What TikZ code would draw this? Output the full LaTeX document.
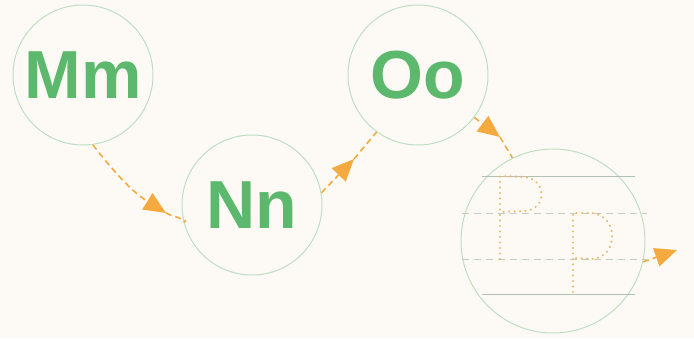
\documentclass[tikz,border=0pt]{standalone}
\usepackage{fontspec}
\setsansfont{Liberation Sans}
\usepackage{tikz}
\usetikzlibrary{arrows.meta,calc}
\definecolor{paper}{RGB}{253,250,245}
\definecolor{ringgreen}{RGB}{190,222,196}
\definecolor{lettergreen}{RGB}{92,184,108}
\definecolor{floworange}{RGB}{244,170,62}
\definecolor{tracedots}{RGB}{238,184,110}
\definecolor{guidegray}{RGB}{176,192,180}
\tikzset{
  letterring/.style={circle, draw=ringgreen, line width=1pt, minimum size=140pt,
    inner sep=0pt, fill=none, text=lettergreen,
    font=\fontsize{68}{68}\selectfont\sffamily\bfseries},
  flowline/.style={draw=floworange, line width=1.6pt, dash pattern=on 6pt off 4pt},
  flowtip/.style={-{Triangle[length=22pt, width=19pt, fill=floworange]}},
  guideline/.style={draw=guidegray, line width=0.9pt},
  guidedash/.style={draw=guidegray!80, line width=0.8pt, dash pattern=on 7pt off 5pt},
  traceline/.style={draw=tracedots, line width=2.4pt, line cap=round,
    dash pattern=on 0pt off 5.5pt},
}

\begin{document}
\begin{tikzpicture}[x=1pt, y=-1pt]
  \useasboundingbox (0,0) rectangle (694,338);
  \fill[paper] (0,0) rectangle (694,338);
  % letter circles
  \node[letterring] (mm) at (83,75) {Mm};
  \node[letterring] (nn) at (252,205) {Nn};
  \node[letterring] (oo) at (418,75) {Oo};
  \node[letterring, minimum size=184pt] (pp) at (553,241) {};
  % writing lines in the last circle
  \draw[guideline] (482,176) -- (635,176);
  \draw[guidedash] (462,213) -- (647,213);
  \draw[guidedash] (462,259) -- (647,259);
  \draw[guideline] (482,294) -- (635,294);
  % dotted P and p
  \draw[traceline] (500,259) -- (500,176) -- (525,177)
    .. controls (547,180) and (547,209) .. (525,211) -- (500,212);
  \draw[traceline] (573,292) -- (573,213) -- (592,213)
    .. controls (619,216) and (619,257) .. (592,259) -- (573,258);
  % connectors
  \coordinate (tipmn) at (166,213);
  \coordinate (tipno) at (354,159);
  \coordinate (tipop) at (500,137);
  \coordinate (tipout) at (677,250);
  \draw[flowline, flowtip] (mm.-82) to[out=-52, in=148] (tipmn);
  \draw[flowline] (tipmn) to[out=-30, in=12] (nn.194);
  \draw[flowline, flowtip] (nn.10) -- (tipno);
  \draw[flowline] (tipno) -- (oo.-126);
  \draw[flowline, flowtip] (oo.-37) -- (tipop);
  \draw[flowline] (tipop) -- (pp.116);
  \draw[flowline, flowtip] (pp.-13) -- (tipout);
\end{tikzpicture}
\end{document}
